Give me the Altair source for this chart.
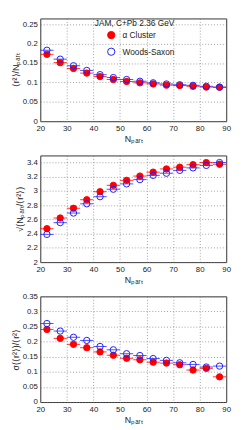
import altair as alt
import pandas as pd

npart = [22.5, 27.5, 32.5, 37.5, 42.5, 47.5, 52.5, 57.5, 62.5, 67.5, 72.5, 77.5, 82.5, 87.5]
half_bin = 2.5
series_names = ["α Cluster", "Woods-Saxon"]

r2_cluster = [0.1725, 0.151, 0.136, 0.124, 0.115, 0.1075, 0.1025, 0.099, 0.096, 0.093, 0.092, 0.090, 0.088, 0.088]
r2_ws = [0.183, 0.160, 0.143, 0.131, 0.120, 0.1125, 0.1075, 0.103, 0.099, 0.096, 0.094, 0.0925, 0.090, 0.0875]

sq_cluster = [2.47, 2.62, 2.757, 2.877, 2.99, 3.08, 3.15, 3.21, 3.265, 3.31, 3.335, 3.37, 3.40, 3.376]
sq_ws = [2.39, 2.555, 2.69, 2.82, 2.92, 3.025, 3.10, 3.16, 3.22, 3.25, 3.29, 3.325, 3.36, 3.40]

sig_cluster = [0.2405, 0.211, 0.191, 0.180, 0.166, 0.155, 0.145, 0.140, 0.132, 0.129, 0.1235, 0.106, 0.1115, 0.0835]
sig_ws = [0.260, 0.235, 0.2145, 0.204, 0.184, 0.173, 0.160, 0.154, 0.144, 0.138, 0.130, 0.1245, 0.116, 0.119]

x_ticks = [20, 30, 40, 50, 60, 70, 80, 90]

FONT = "Liberation Sans"
RED = "#ff0000"
BLUE = "#1f1fff"


def make_df(a, b):
    rows = []
    for name, vals in zip(series_names, [a, b]):
        for x, y in zip(npart, vals):
            rows.append({"x": x, "xlo": x - half_bin, "xhi": x + half_bin, "y": y, "series": name})
    return pd.DataFrame(rows)


def panel(df, ytitle, ydomain, yvalues, yfmt, height, legend):
    xscale = alt.Scale(domain=[20, 90], nice=False)
    xaxis = alt.Axis(values=x_ticks, title="Nₚₐᵣₜ", format="d", tickCount=8, labelPadding=4,
                     labelOverlap=False, labelBound=False, labelFlush=False)
    yenc = alt.Y("y:Q", scale=alt.Scale(domain=ydomain, nice=False, zero=False),
                 axis=alt.Axis(values=yvalues, title=ytitle, format=yfmt, labelPadding=3,
                               labelOverlap=False, labelBound=False, labelFlush=False))
    if legend:
        leg = alt.Legend(title="JAM, C+Pb 2.36 GeV", orient="none", legendX=56, legendY=1,
                         titleAnchor="end", titleFontSize=8.5, labelFontSize=8.5,
                         titleFont=FONT, labelFont=FONT, titleFontWeight="normal",
                         symbolSize=55, symbolStrokeWidth=1, rowPadding=4,
                         titlePadding=3, labelOffset=7, titleColor="#222", labelColor="#222")
    else:
        leg = None
    color = alt.Color("series:N", scale=alt.Scale(domain=series_names, range=[RED, BLUE]), legend=leg)
    fill = alt.Fill("series:N", scale=alt.Scale(domain=series_names, range=[RED, "transparent"]), legend=leg)
    bars = alt.Chart(df).mark_rule(strokeWidth=1, opacity=0.8).encode(
        x=alt.X("xlo:Q", scale=xscale, axis=xaxis), x2="xhi:Q", y=yenc,
        color=alt.Color("series:N", scale=alt.Scale(domain=series_names, range=[RED, BLUE]), legend=None))
    pts = alt.Chart(df).mark_point(shape="circle", size=42, strokeWidth=1, fillOpacity=1, opacity=1).encode(
        x=alt.X("x:Q", scale=xscale, axis=xaxis), y=yenc, color=color, fill=fill)
    return alt.layer(bars, pts).properties(width=190, height=height).resolve_scale(color="independent", fill="independent")


p1 = panel(make_df(r2_cluster, r2_ws), "⟨r²⟩/Nₚₐᵣₜ", [0, 0.265],
           [0, 0.05, 0.1, 0.15, 0.2, 0.25], ".2~f", 105, True)
p2 = panel(make_df(sq_cluster, sq_ws), "√(Nₚₐᵣₜ/⟨r²⟩)", [2, 3.5],
           [2, 2.2, 2.4, 2.6, 2.8, 3, 3.2, 3.4], ".1~f", 109, False)
p3 = panel(make_df(sig_cluster, sig_ws), "σ(⟨r²⟩)/⟨r²⟩", [0, 0.35],
           [0, 0.05, 0.1, 0.15, 0.2, 0.25, 0.3, 0.35], ".2~f", 108, False)

chart = alt.vconcat(p1, p2, p3, spacing=35, bounds="flush").resolve_scale(
    color="independent", fill="independent"
).properties(
    padding={"left": 2, "top": 5, "right": 5, "bottom": 5},
    background="white",
).configure_view(
    stroke="#333333", strokeWidth=1
).configure_axis(
    labelFont=FONT, titleFont=FONT, labelFontSize=8, titleFontSize=9,
    labelColor="#222", titleColor="#222", titleFontWeight="normal",
    grid=True, gridColor="#777777", gridDash=[1, 2], gridWidth=0.7,
    ticks=False, domain=False, titlePadding=2,
)

chart.save("out.html", embed_options={"renderer": "svg", "actions": False})
